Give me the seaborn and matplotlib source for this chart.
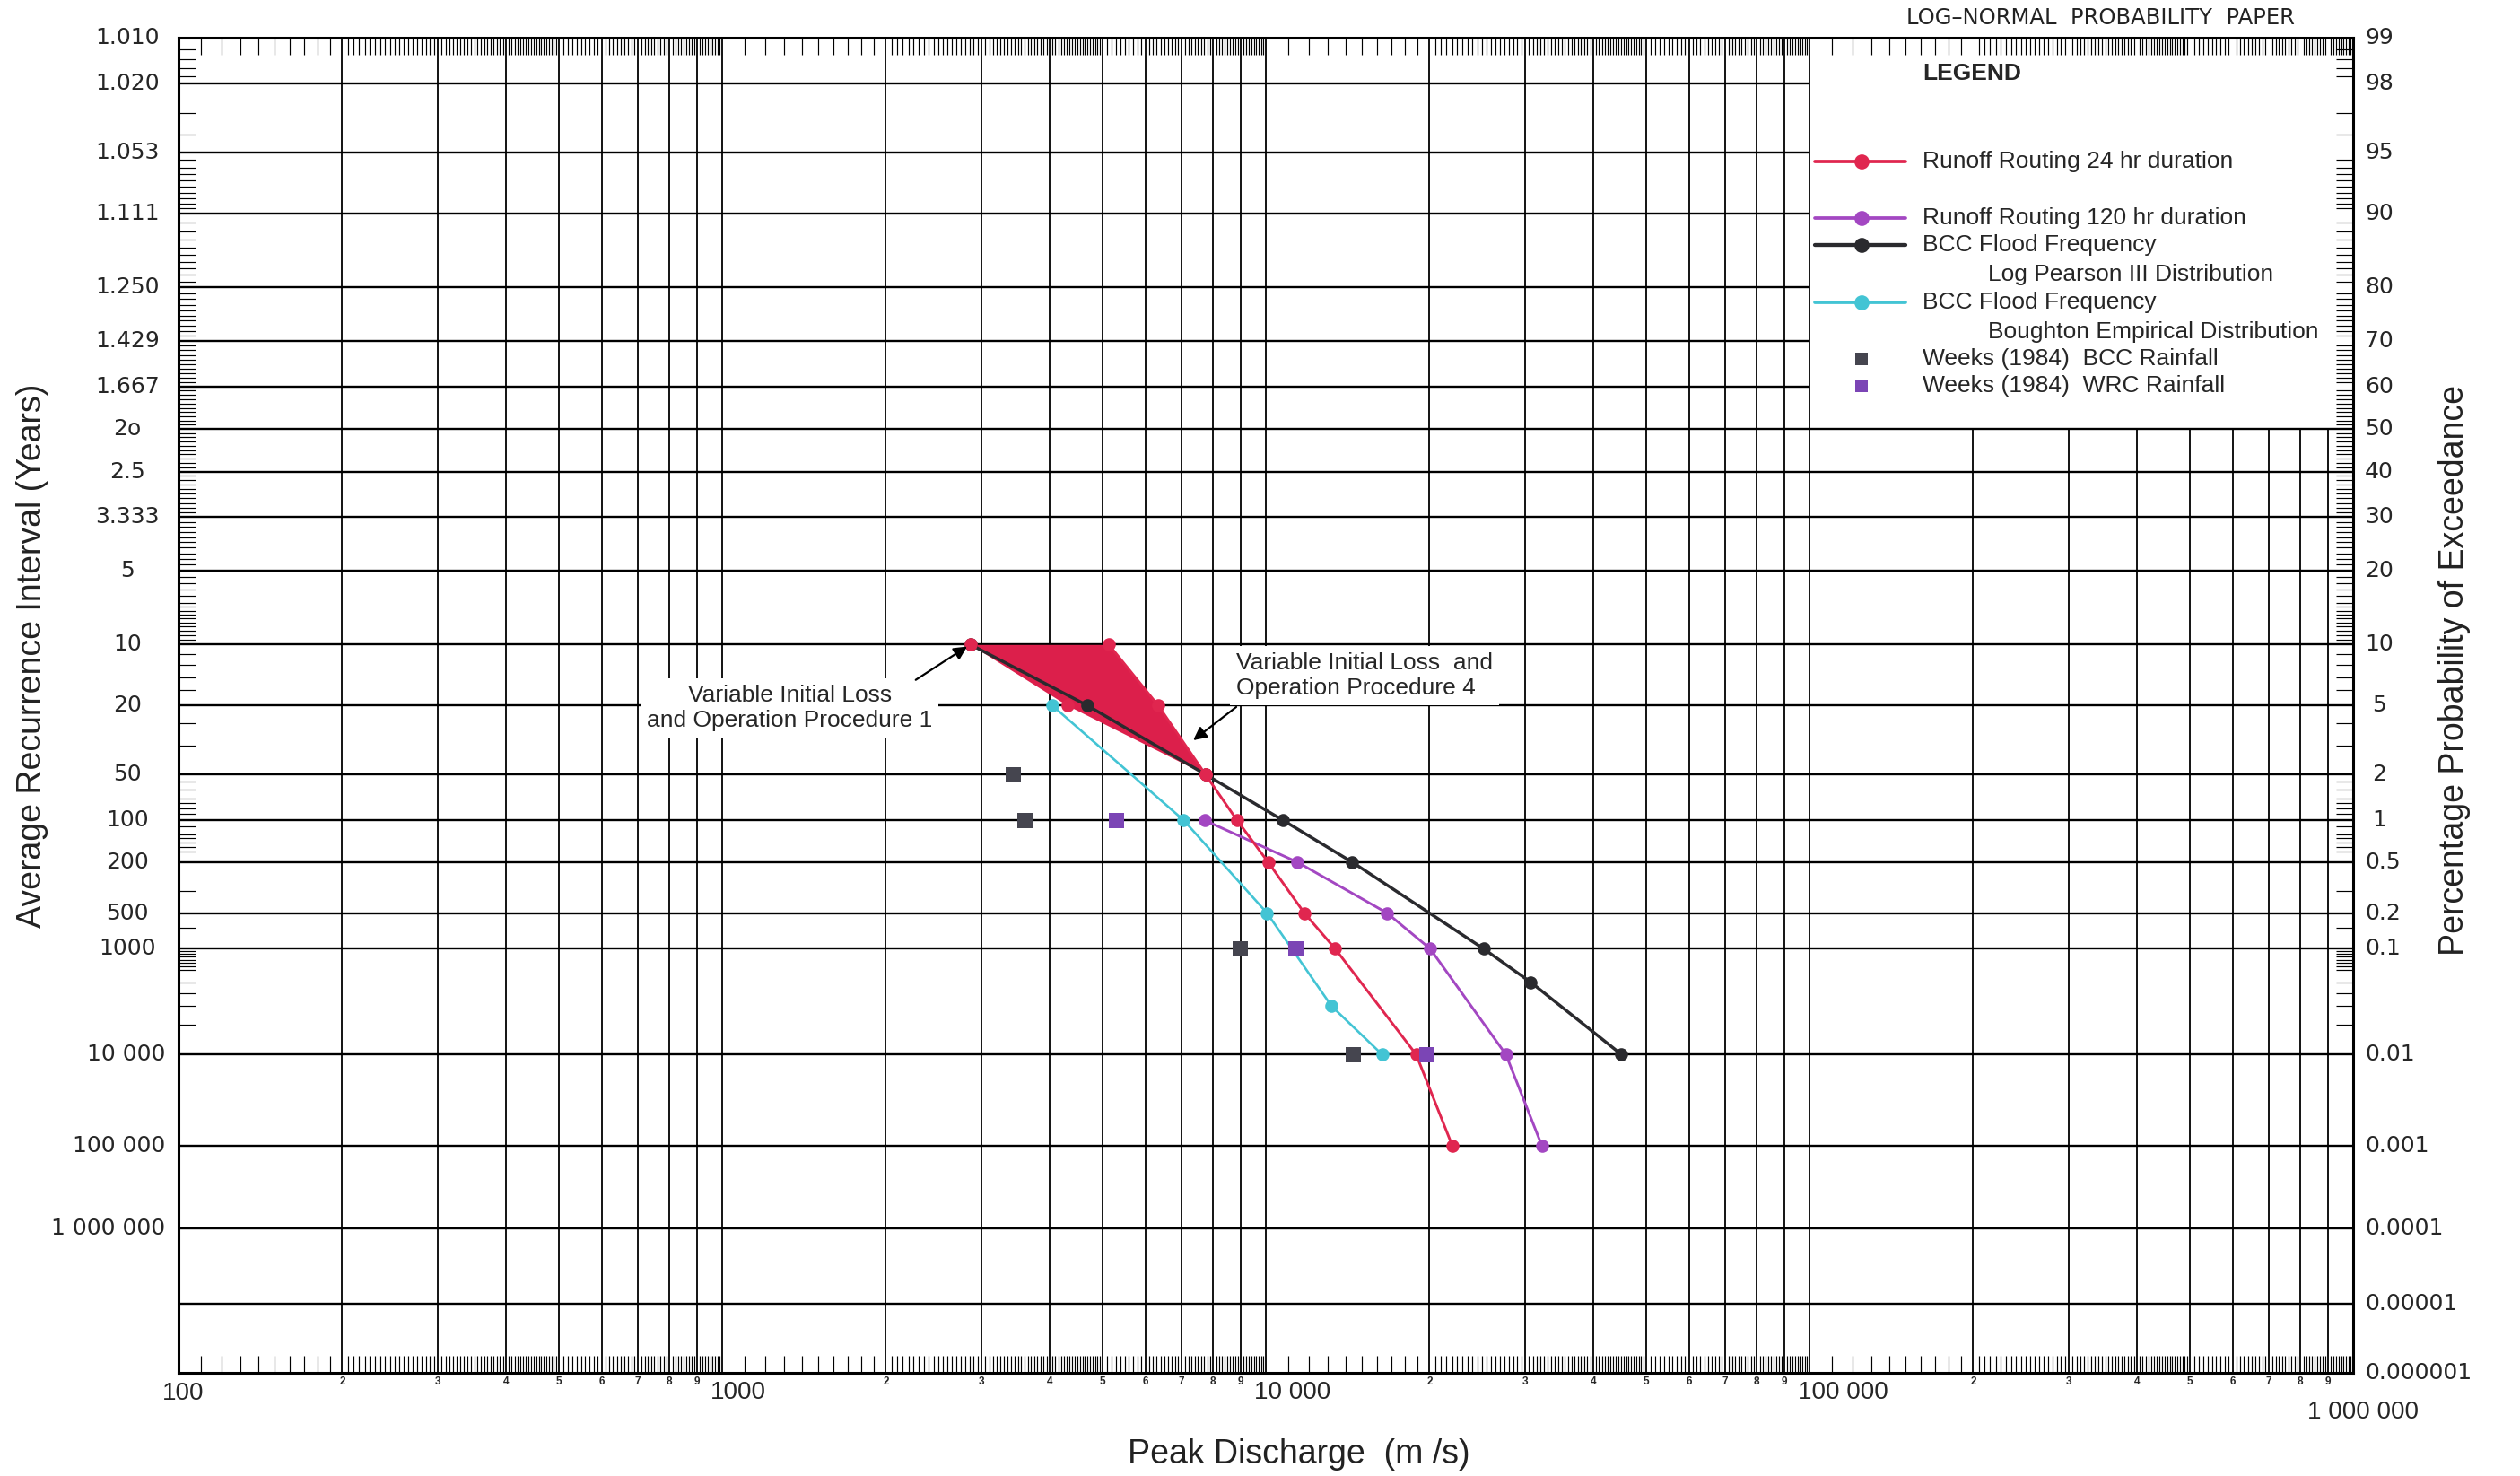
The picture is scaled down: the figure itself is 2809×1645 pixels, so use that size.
import math
from statistics import NormalDist

import numpy as np
import pandas as pd
import matplotlib
matplotlib.use("Agg")
import matplotlib.pyplot as plt
import matplotlib.transforms as mtransforms
from matplotlib.ticker import FixedLocator, NullFormatter, NullLocator
import seaborn as sns

# ---------------------------------------------------------------------------
# Peak discharge (m3/s) against percentage probability of exceedance (%)
# ---------------------------------------------------------------------------
RR24_P = [10, 5, 2, 1, 0.5, 0.2, 0.1, 0.01, 0.001]
RR24_Q = [5140, 6340, 7740, 8850, 10100, 11770, 13410, 18900, 22050]

# lower edge of the 24 hr band (variable initial loss, operation procedure 1)
RR24_PROC1_P = [10, 5, 2]
RR24_PROC1_Q = [2860, 4320, 7740]

RR120_P = [1, 0.5, 0.2, 0.1, 0.01, 0.001]
RR120_Q = [7710, 11430, 16710, 20050, 27640, 32220]

LP3_P = [10, 5, 2, 1, 0.5, 0.1, 0.05, 0.01]
LP3_Q = [2860, 4700, 7740, 10750, 14420, 25140, 30730, 45080]

BOUGHTON_P = [5, 1, 0.2, 0.03, 0.01]
BOUGHTON_Q = [4050, 7060, 10050, 13210, 16360]

WEEKS_BCC_P = [2, 1, 0.1, 0.01]
WEEKS_BCC_Q = [3435, 3607, 8975, 14500]

WEEKS_WRC_P = [1, 0.1, 0.01]
WEEKS_WRC_Q = [5320, 11340, 19770]

# probability-paper rulings and scale labels
GRID_P = [98, 95, 90, 80, 70, 60, 50, 40, 30, 20, 10, 5, 2, 1, 0.5, 0.2, 0.1,
          0.01, 0.001, 0.0001, 0.00001]
RIGHT_LABEL_P = [99] + GRID_P + [0.000001]
RIGHT_LABELS = ["99", "98", "95", "90", "80", "70", "60", "50", "40", "30", "20",
                "10", "5", "2", "1", "0.5", "0.2", "0.1", "0.01", "0.001",
                "0.0001", "0.00001", "0.000001"]
LEFT_LABELS = ["1.010", "1.020", "1.053", "1.111", "1.250", "1.429", "1.667",
               "2o", "2.5", "3.333", "5", "10", "20", "50", "100", "200", "500",
               "1000", "10 000", "100 000", "1 000 000"]
LEFT_LABEL_P = RIGHT_LABEL_P[:len(LEFT_LABELS)]

DECADES = [100, 1000, 10000, 100000, 1000000]
DECADE_LABELS = ["100", "1000", "10 000", "100 000", "1 000 000"]
SUBDIVISIONS = [2, 3, 4, 5, 6, 7, 8, 9]

P_MIN, P_MAX = 0.000001, 99
Q_MIN, Q_MAX = DECADES[0], DECADES[-1]

# ---------------------------------------------------------------------------
# normal-probability scale for the exceedance axis
# ---------------------------------------------------------------------------
_ND = NormalDist()


def prob_to_z(p):
    arr = np.asarray(p, dtype=float)
    flat = np.clip(arr.ravel(), 1e-12, 100 - 1e-9)
    out = np.array([_ND.inv_cdf(v / 100.0) if np.isfinite(v) else np.nan
                    for v in flat], dtype=float)
    return out.reshape(arr.shape)


def z_to_prob(z):
    arr = np.asarray(z, dtype=float)
    out = np.array([50.0 * (1.0 + math.erf(v / math.sqrt(2.0))) if np.isfinite(v) else np.nan
                    for v in arr.ravel()], dtype=float)
    return out.reshape(arr.shape)


def steps(hi, lo, step):
    return list(np.round(np.arange(hi - step, lo + step / 2, -step), 6))


EDGE_TICK_P = (steps(99, 98, 0.2) + steps(98, 95, 1) + steps(95, 90, 0.5)
               + steps(90, 80, 1) + steps(80, 70, 1) + steps(70, 60, 1)
               + steps(60, 50, 1) + steps(50, 40, 1) + steps(40, 30, 1)
               + steps(30, 20, 1) + [19, 18, 17, 16, 15] + steps(15, 10, 0.5)
               + [9, 8, 7, 6, 4, 3, 1.8, 1.6, 1.4, 1.3, 1.2, 1.1,
                  0.9, 0.8, 0.75, 0.7, 0.65, 0.6, 0.3, 0.15]
               + steps(0.1, 0.06, 0.005) + [0.05, 0.04, 0.03, 0.02])

edge_tick_q = []
for d in DECADES[:-1]:
    mults = (list(np.arange(1.1, 1.95, 0.1)) + list(np.arange(2.05, 4.99, 0.05))
             + list(np.arange(5.1, 9.95, 0.1)))
    edge_tick_q += [d * m for m in mults if abs(m - round(m)) > 1e-6]

# ---------------------------------------------------------------------------
# figure
# ---------------------------------------------------------------------------
sns.set_theme(style="white")
plt.rcParams["font.family"] = ["Liberation Sans", "DejaVu Sans"]

W, H = 2809, 1645
fig = plt.figure(figsize=(W / 100, H / 100), dpi=100)
AX_L, AX_R, AX_T, AX_B = 199, 2623, 42, 1530
ax = fig.add_axes([AX_L / W, 1 - AX_B / H, (AX_R - AX_L) / W, (AX_B - AX_T) / H])

ax.set_xscale("log")
ax.set_yscale("function", functions=(prob_to_z, z_to_prob))
ax.set_xlim(Q_MIN, Q_MAX)
ax.set_ylim(P_MIN, P_MAX)
ax.set_autoscale_on(False)

for s in ax.spines.values():
    s.set_color("black")
    s.set_linewidth(2.2)
    s.set_visible(True)

# fine ruling marks along the four edges
ax.xaxis.set_major_locator(NullLocator())
ax.yaxis.set_major_locator(NullLocator())
ax.xaxis.set_minor_locator(FixedLocator(edge_tick_q))
ax.yaxis.set_minor_locator(FixedLocator(EDGE_TICK_P))
ax.xaxis.set_minor_formatter(NullFormatter())
ax.yaxis.set_minor_formatter(NullFormatter())
ax.tick_params(which="minor", direction="in", length=14, width=0.85, color="black",
               top=True, bottom=True, left=True, right=True)
ax.tick_params(which="major", length=0)

# grid rulings (the legend panel sits in the upper-right block, left unruled)
LEGEND_Q, LEGEND_P = 100000, 50
grid_q = [d * m for d in DECADES[:-1] for m in [1] + SUBDIVISIONS][1:]
full_q = [q for q in grid_q if q <= LEGEND_Q]
short_q = [q for q in grid_q if q > LEGEND_Q]
ax.vlines(full_q, P_MIN, P_MAX, color="black", lw=1.3, zorder=1)
ax.vlines(short_q, P_MIN, LEGEND_P, color="black", lw=1.3, zorder=1)
ax.hlines([p for p in GRID_P if p <= LEGEND_P], Q_MIN, Q_MAX, color="black", lw=1.7, zorder=1)
ax.hlines([p for p in GRID_P if p > LEGEND_P], Q_MIN, LEGEND_Q, color="black", lw=1.7, zorder=1)

# ---------------------------------------------------------------------------
# data
# ---------------------------------------------------------------------------
RED = "#e0264f"
PURPLE = "#a347c2"
BLACK = "#2a2a2e"
CYAN = "#43c4d4"
GREY_SQ = "#45454f"
PURPLE_SQ = "#7b45b5"

ax.fill_betweenx(RR24_PROC1_P, RR24_PROC1_Q, RR24_Q[:len(RR24_PROC1_P)],
                 color="#dc1f4b", lw=0, zorder=2)

curves = [
    ("BCC Flood Frequency (Boughton)", BOUGHTON_Q, BOUGHTON_P, CYAN, 1.9, 3),
    ("BCC Flood Frequency (LP3)", LP3_Q, LP3_P, BLACK, 2.5, 3.2),
    ("Runoff Routing 120 hr", RR120_Q, RR120_P, PURPLE, 2.1, 3.4),
    ("Runoff Routing 24 hr", RR24_Q, RR24_P, RED, 2.1, 3.6),
    ("Runoff Routing 24 hr (procedure 1)", RR24_PROC1_Q, RR24_PROC1_P, RED, 0, 3.6),
]
for name, q, p, col, lw, z in curves:
    df = pd.DataFrame({"Q": q, "P": p})
    sns.lineplot(data=df, x="Q", y="P", sort=False, estimator=None, color=col,
                 linewidth=lw, marker="o", markersize=10.5, markeredgewidth=0,
                 ax=ax, zorder=z)

weeks = pd.concat([
    pd.DataFrame({"series": "BCC", "Q": WEEKS_BCC_Q, "P": WEEKS_BCC_P}),
    pd.DataFrame({"series": "WRC", "Q": WEEKS_WRC_Q, "P": WEEKS_WRC_P}),
], ignore_index=True)
sns.scatterplot(data=weeks, x="Q", y="P", hue="series",
                palette={"BCC": GREY_SQ, "WRC": PURPLE_SQ}, marker="s", s=150,
                linewidth=0, legend=False, ax=ax, zorder=5)

ax.set_xlabel("")
ax.set_ylabel("")
ax.set_xlim(Q_MIN, Q_MAX)
ax.set_ylim(P_MIN, P_MAX)

# ---------------------------------------------------------------------------
# scale labels
# ---------------------------------------------------------------------------
tick_font = ["DejaVu Sans"]
yl_trans = mtransforms.blended_transform_factory(fig.transFigure, ax.transData)
for lab, p in zip(RIGHT_LABELS, RIGHT_LABEL_P):
    if len(lab) == 1:
        ax.text(2652 / W, p, lab, transform=yl_trans, ha="center", va="center",
                fontsize=18, family=tick_font)
    else:
        ax.text(2636 / W, p, lab, transform=yl_trans, ha="left", va="center",
                fontsize=18, family=tick_font)
for lab, p in zip(LEFT_LABELS, LEFT_LABEL_P):
    if len(lab) <= 5:
        ax.text(142 / W, p, lab, transform=yl_trans, ha="center", va="center",
                fontsize=18, family=tick_font)
    else:
        ax.text(184 / W, p, lab, transform=yl_trans, ha="right", va="center",
                fontsize=18, family=tick_font)

xl_trans = mtransforms.blended_transform_factory(ax.transData, fig.transFigure)
for d in DECADES[:-1]:
    for m in SUBDIVISIONS:
        ax.text(d * m, 1 - 1540 / H, str(m), transform=xl_trans, ha="center",
                va="center", fontsize=8.5, fontweight="bold")
for d, lab in zip(DECADES, DECADE_LABELS):
    if d == DECADES[0]:
        tr = mtransforms.offset_copy(xl_trans, fig=fig, x=5, y=0, units="dots")
        ax.text(d, 1 - 1553 / H, lab, transform=tr, ha="center", va="center", fontsize=20)
    elif d == DECADES[-1]:
        tr = mtransforms.offset_copy(xl_trans, fig=fig, x=11, y=0, units="dots")
        ax.text(d, 1 - 1574 / H, lab, transform=tr, ha="center", va="center", fontsize=20)
    else:
        tr = mtransforms.offset_copy(xl_trans, fig=fig, x=-13, y=0, units="dots")
        ax.text(d, 1 - 1552 / H, lab, transform=tr, ha="left", va="center", fontsize=20)

fig.text(1448 / W, 1 - 1621 / H, "Peak Discharge  (m /s)", ha="center", va="center",
         fontsize=27, color="#222222")
fig.text(36 / W, 1 - 731 / H, "Average Recurrence Interval (Years)", rotation=90,
         ha="center", va="center", fontsize=27, color="#222222")
fig.text(2736 / W, 1 - 747 / H, "Percentage Probability of Exceedance", rotation=90,
         ha="center", va="center", fontsize=27, color="#222222")
fig.text(2341 / W, 1 - 20 / H, "LOG\u2013NORMAL  PROBABILITY  PAPER", ha="center",
         va="center", fontsize=17.5, family=tick_font, color="#222222")

# ---------------------------------------------------------------------------
# annotations for the 24 hr band
# ---------------------------------------------------------------------------
box = dict(boxstyle="square,pad=0.25", fc="white", ec="none")
ax.text(0.281, 0.498, "Variable Initial Loss\nand Operation Procedure 1",
        transform=ax.transAxes, ha="center", va="center", multialignment="center",
        fontsize=19, bbox=box, zorder=4, linespacing=1.25)
ax.annotate("", xy=(RR24_PROC1_Q[0], RR24_PROC1_P[0]), xycoords="data",
            xytext=(0.339, 0.519), textcoords="axes fraction",
            arrowprops=dict(arrowstyle="-|>", color="black", lw=1.6,
                            mutation_scale=22, shrinkA=0, shrinkB=3), zorder=6)
ax.text(0.4864, 0.5222, "Variable Initial Loss  and\nOperation Procedure 4",
        transform=ax.transAxes, ha="left", va="center", multialignment="left",
        fontsize=19, bbox=box, zorder=4, linespacing=1.25)
ax.annotate("", xy=(0.4666, 0.4738), xycoords="axes fraction",
            xytext=(0.4864, 0.4987), textcoords="axes fraction",
            arrowprops=dict(arrowstyle="-|>", color="black", lw=1.6,
                            mutation_scale=22, shrinkA=0, shrinkB=0), zorder=6)

# ---------------------------------------------------------------------------
# legend panel
# ---------------------------------------------------------------------------
H0, H1, HM = 0.7525, 0.7942, 0.774
TX, TX2 = 0.802, 0.832
ax.text(TX, 0.9731, "LEGEND", transform=ax.transAxes, ha="left", va="center",
        fontsize=19, fontweight="bold")
legend_lines = [
    (0.9073, RED, 2.1, "Runoff Routing 24 hr duration", None),
    (0.8649, PURPLE, 2.1, "Runoff Routing 120 hr duration", None),
    (0.8448, BLACK, 2.5, "BCC Flood Frequency", "Log Pearson III Distribution"),
    (0.8017, CYAN, 2.1, "BCC Flood Frequency", "Boughton Empirical Distribution"),
]
row_gap = 0.0221
for y, col, lw, lab, sub in legend_lines:
    ax.plot([H0, H1], [y, y], transform=ax.transAxes, color=col, lw=lw + 0.6,
            clip_on=False, zorder=6)
    ax.plot([HM], [y], transform=ax.transAxes, color=col, marker="o",
            markersize=12, markeredgewidth=0, clip_on=False, zorder=6)
    ax.text(TX, y, lab, transform=ax.transAxes, ha="left", va="center", fontsize=19)
    if sub:
        ax.text(TX2, y - row_gap, sub, transform=ax.transAxes, ha="left",
                va="center", fontsize=19)
for y, col, lab in [(0.7594, GREY_SQ, "Weeks (1984)  BCC Rainfall"),
                    (0.7392, PURPLE_SQ, "Weeks (1984)  WRC Rainfall")]:
    ax.plot([HM], [y], transform=ax.transAxes, color=col, marker="s",
            markersize=10, markeredgewidth=0, clip_on=False, zorder=6)
    ax.text(TX, y, lab, transform=ax.transAxes, ha="left", va="center", fontsize=19)

fig.savefig("out.png", dpi=100, facecolor="white")
